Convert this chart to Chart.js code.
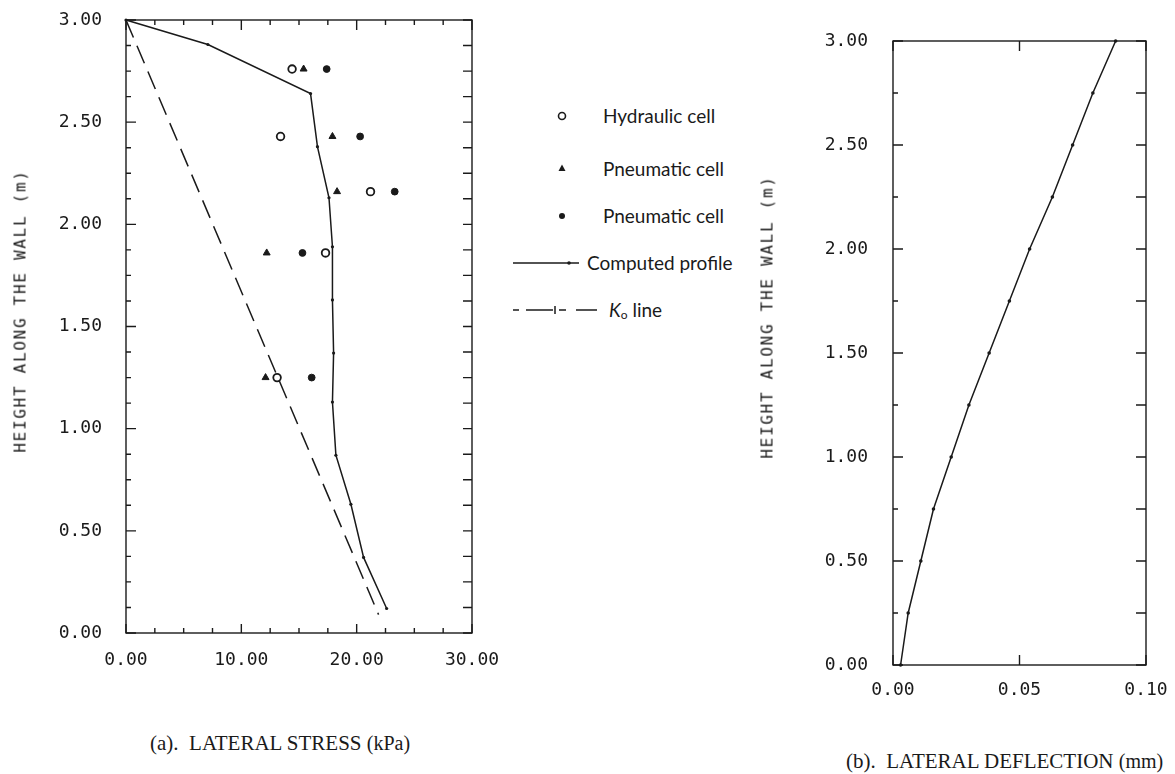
<!DOCTYPE html>
<html>
<head>
<meta charset="utf-8">
<title>Lateral stress and deflection along the wall</title>
<script src="https://cdn.jsdelivr.net/npm/chart.js@4.4.1/dist/chart.umd.min.js"></script>
<style>
  body { margin: 0; background: #fff; }
  #page { position: relative; width: 1175px; height: 774px; overflow: hidden; background: #fff; color: #1a1a1a; }
  #page canvas { position: absolute; top: 0; }
  #stressChart { left: 0; }
  #deflChart { left: 750px; }
  .axis-title {
    position: absolute; white-space: nowrap;
    font: 16px 'DejaVu Sans Mono', monospace; letter-spacing: 1.7px;
    transform: translate(-50%, -50%) rotate(-90deg);
  }
  .caption { position: absolute; white-space: nowrap; font: 21px 'Liberation Serif', serif; line-height: 26px; }
  .caption small { font-size: 20px; }
  .key-text { position: absolute; white-space: nowrap; font: 19px Lato, sans-serif; line-height: 24px; }
  .key-text sub { font-size: 12px; vertical-align: -2px; }
  .key-mark { position: absolute; }
</style>
</head>
<body>
<div id="page">
  <canvas id="stressChart" width="500" height="700"></canvas>
  <canvas id="deflChart" width="425" height="720"></canvas>

  <div class="axis-title" style="left:20px; top:311px;">HEIGHT ALONG THE WALL (m)</div>
  <div class="axis-title" style="left:767px; top:317px;">HEIGHT ALONG THE WALL (m)</div>

  <!-- key for the stress plot -->
  <svg class="key-mark" style="left:505px; top:100px;" width="100" height="230">
    <circle cx="57" cy="16" r="3.5" fill="#fff" stroke="#1a1a1a" stroke-width="1.6"/>
    <polygon points="57,64.5 60.5,71 53.5,71" fill="#1a1a1a"/>
    <circle cx="57" cy="116" r="3" fill="#1a1a1a"/>
    <line x1="8" y1="163" x2="74" y2="163" stroke="#1a1a1a" stroke-width="1.5"/>
    <circle cx="64" cy="163" r="1.8" fill="#1a1a1a"/>
    <g stroke="#1a1a1a" stroke-width="1.5">
      <line x1="8" y1="210" x2="14" y2="210"/>
      <line x1="21" y1="210" x2="48" y2="210"/>
      <line x1="50" y1="206" x2="50" y2="214"/>
      <line x1="54" y1="210" x2="61" y2="210"/>
      <line x1="71" y1="210" x2="92" y2="210"/>
    </g>
  </svg>
  <div class="key-text" style="left:603px; top:104px;">Hydraulic cell</div>
  <div class="key-text" style="left:603px; top:157px;">Pneumatic cell</div>
  <div class="key-text" style="left:603px; top:204px;">Pneumatic cell</div>
  <div class="key-text" style="left:587px; top:251px;">Computed profile</div>
  <div class="key-text" style="left:609px; top:298px;"><i>K</i><sub>o</sub> line</div>

  <div class="caption" style="left:150px; top:730px;">(a).&nbsp; LATERAL STRESS <small>(kPa)</small></div>
  <div class="caption" style="left:846px; top:748px;">(b).&nbsp; LATERAL DEFLECTION <small>(mm)</small></div>
</div>

<script>
const INK = '#1a1a1a';

// (a) computed lateral stress profile, kPa against height in m
const profileHeight = [3.00, 2.88, 2.64, 2.38, 2.13, 1.89, 1.63, 1.37, 1.13, 0.87, 0.63, 0.37, 0.12];
const profileStress = [0.0, 7.1, 16.0, 16.6, 17.6, 17.9, 17.9, 18.0, 17.9, 18.2, 19.5, 20.6, 22.6];

// at-rest (Ko) line
const koHeight = [3.00, 0.09];
const koStress = [0.0, 21.9];

// measured cell readings, one reading per cell level
const cellHeight = [2.76, 2.43, 2.16, 1.86, 1.25];
const hydraulicStress = [14.4, 13.4, 21.2, 17.3, 13.1];
const pneumaticTriStress = [15.4, 17.9, 18.3, 12.2, 12.1];
const pneumaticDotStress = [17.4, 20.3, 23.3, 15.3, 16.1];

// (b) lateral deflection, mm against height in m
const deflHeight = [0.00, 0.25, 0.50, 0.75, 1.00, 1.25, 1.50, 1.75, 2.00, 2.25, 2.50, 2.75, 3.00];
const deflection = [0.003, 0.006, 0.011, 0.016, 0.023, 0.030, 0.038, 0.046, 0.054, 0.063, 0.071, 0.079, 0.088];

const toPoints = (xs, ys) => xs.map((x, i) => ({ x, y: ys[i] }));
const fixed2 = v => Number(v).toFixed(2);

Chart.defaults.font.family = "'DejaVu Sans Mono', monospace";
Chart.defaults.font.size = 18;
Chart.defaults.color = INK;

// boxed frame with the tick marks drawn inwards on every side
const frameTicks = {
  id: 'frameTicks',
  afterDatasetsDraw(chart, args, opts) {
    const { ctx, chartArea: a, scales } = chart;
    ctx.save();
    ctx.strokeStyle = INK;
    ctx.lineWidth = 1.4;
    ctx.strokeRect(a.left, a.top, a.right - a.left, a.bottom - a.top);
    ctx.beginPath();
    ['left', 'right', 'top', 'bottom'].forEach(side => {
      const t = opts[side];
      if (!t) return;
      const scale = (side === 'left' || side === 'right') ? scales.y : scales.x;
      const n = Math.round((scale.max - scale.min) / t.step);
      for (let i = 0; i <= n; i++) {
        const v = scale.min + i * t.step;
        const isMajor = t.major && Math.abs(v / t.major - Math.round(v / t.major)) < 1e-6;
        const len = isMajor ? t.majorLen : t.len;
        const p = scale.getPixelForValue(v);
        if (side === 'left') { ctx.moveTo(a.left, p); ctx.lineTo(a.left + len, p); }
        if (side === 'right') { ctx.moveTo(a.right, p); ctx.lineTo(a.right - len, p); }
        if (side === 'top') { ctx.moveTo(p, a.top); ctx.lineTo(p, a.top + len); }
        if (side === 'bottom') { ctx.moveTo(p, a.bottom); ctx.lineTo(p, a.bottom - len); }
      }
    });
    ctx.stroke();
    ctx.restore();
  }
};

// fixed-size axis; label overhang is not allowed to push the plot area in
function axis(min, max, step, pad, key, size) {
  return {
    type: 'linear', min, max,
    grid: { display: false, drawTicks: false },
    border: { display: false },
    ticks: { stepSize: step, padding: pad, callback: fixed2 },
    afterFit(s) {
      s[key] = size;
      s.paddingTop = s.paddingBottom = s.paddingLeft = s.paddingRight = 0;
    }
  };
}

const common = {
  responsive: false,
  animation: false,
  events: [],
  plugins: { legend: { display: false }, tooltip: { enabled: false } }
};

new Chart(document.getElementById('stressChart'), {
  type: 'scatter',
  data: {
    datasets: [
      {
        label: 'Computed profile',
        data: toPoints(profileStress, profileHeight),
        showLine: true, borderColor: INK, borderWidth: 1.5,
        pointRadius: 1.6, pointBackgroundColor: INK, pointBorderWidth: 0, clip: false
      },
      {
        label: 'Ko line',
        data: toPoints(koStress, koHeight),
        showLine: true, borderColor: INK, borderWidth: 1.5, borderDash: [19, 9],
        pointRadius: 0
      },
      {
        label: 'Hydraulic cell',
        data: toPoints(hydraulicStress, cellHeight),
        pointStyle: 'circle', pointRadius: 3.8,
        pointBackgroundColor: '#fff', pointBorderColor: INK, pointBorderWidth: 1.8
      },
      {
        label: 'Pneumatic cell',
        data: toPoints(pneumaticTriStress, cellHeight),
        pointStyle: 'triangle', pointRadius: 4,
        pointBackgroundColor: INK, pointBorderColor: INK, pointBorderWidth: 1
      },
      {
        label: 'Pneumatic cell',
        data: toPoints(pneumaticDotStress, cellHeight),
        pointStyle: 'circle', pointRadius: 3.4,
        pointBackgroundColor: INK, pointBorderColor: INK, pointBorderWidth: 1
      }
    ]
  },
  options: {
    ...common,
    layout: { padding: { top: 20, right: 28, left: 0, bottom: 0 } },
    scales: {
      x: axis(0, 30, 10, 17, 'height', 67),
      y: axis(0, 3, 0.5, 24, 'width', 126)
    },
    plugins: {
      ...common.plugins,
      frameTicks: {
        left: { step: 0.125, major: 0.5, len: 5, majorLen: 10 },
        right: { step: 0.125, len: 9 },
        top: { step: 2.5, major: 10, len: 5, majorLen: 10 },
        bottom: { step: 2.5, major: 10, len: 5, majorLen: 9 }
      }
    }
  },
  plugins: [frameTicks]
});

new Chart(document.getElementById('deflChart'), {
  type: 'scatter',
  data: {
    datasets: [{
      label: 'Lateral deflection',
      data: toPoints(deflection, deflHeight),
      showLine: true, borderColor: INK, borderWidth: 1.5,
      pointRadius: 1.8, pointBackgroundColor: INK, pointBorderWidth: 0, clip: false
    }]
  },
  options: {
    ...common,
    layout: { padding: { top: 41, right: 29, left: 0, bottom: 0 } },
    scales: {
      x: axis(0, 0.1, 0.05, 15, 'height', 55),
      y: axis(0, 3, 0.5, 25, 'width', 143)
    },
    plugins: {
      ...common.plugins,
      frameTicks: {
        left: { step: 0.25, major: 0.5, len: 5, majorLen: 10 },
        right: { step: 0.25, len: 10 },
        top: { step: 0.05, len: 10 },
        bottom: { step: 0.05, len: 10 }
      }
    }
  },
  plugins: [frameTicks]
});
</script>
</body>
</html>
